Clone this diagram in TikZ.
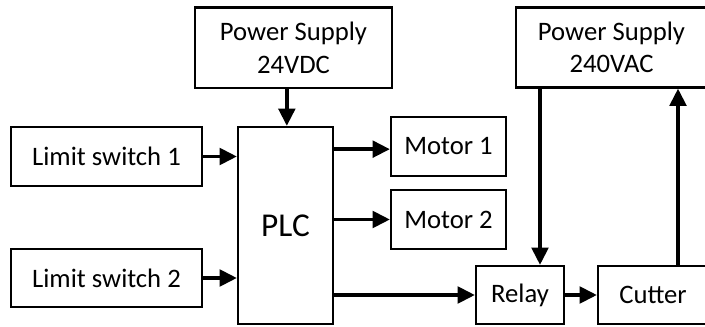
\documentclass[tikz,border=0pt]{standalone}
\usepackage{fontspec}
\setmainfont{Carlito}
\usepackage{tikz}
\usetikzlibrary{arrows.meta,positioning}

\tikzset{
  block/.style={draw, line width=1.7pt, align=center, inner sep=0pt,
    font=\fontsize{20}{24.5}\selectfont},
  arr/.style={line width=2.6pt, -{Triangle[length=13pt,width=12.5pt]}}
}

\begin{document}
\begin{tikzpicture}[x=0.75pt,y=-0.75pt]
\useasboundingbox (0,0) rectangle (705,327);
\node[block, minimum width=147.75pt, minimum height=60.4pt] (ps24) at (293.5,47.75) {Power Supply\\24VDC};
\node[block, minimum width=143.25pt, minimum height=60pt] (ps240) at (611.5,47.5) {Power Supply\\240VAC};
\node[block, minimum width=143.25pt, minimum height=44pt] (ls1) at (106.5,156.5) {Limit switch 1};
\node[block, minimum width=143.25pt, minimum height=44pt] (ls2) at (106.5,278) {Limit switch 2};
\node[block, minimum width=71.25pt, minimum height=147.75pt, font=\fontsize{25}{30}\selectfont] (plc) at (285.5,225.5) {PLC};
\node[block, minimum width=86.25pt, minimum height=44.25pt] (m1) at (448.5,146.5) {Motor 1};
\node[block, minimum width=86.25pt, minimum height=44.25pt] (m2) at (448.5,219.5) {Motor 2};
\node[block, minimum width=66pt, minimum height=43.5pt] (relay) at (520,295) {Relay};
\node[block, minimum width=82.5pt, minimum height=43.5pt] (cutter) at (653,295) {Cutter};
\draw[arr] ([xshift=1pt]plc.north |- ps24.south) -- ([xshift=1pt]plc.north);
\draw[arr] (ls1.east) -- (ls1.east -| plc.west);
\draw[arr] (ls2.east) -- (ls2.east -| plc.west);
\draw[arr] ([yshift=-2pt]m1.west -| plc.east) -- ([yshift=-2pt]m1.west);
\draw[arr] (m2.west -| plc.east) -- (m2.west);
\draw[arr] (relay.west -| plc.east) -- (relay.west);
\draw[arr] (relay.east) -- (cutter.west);
\draw[arr] ([xshift=15pt]relay.north |- ps240.south) -- ([xshift=15pt]relay.north);
\draw[arr] ([xshift=18.75pt]cutter.north) -- ([xshift=18.75pt]cutter.north |- ps240.south);
\end{tikzpicture}
\end{document}
